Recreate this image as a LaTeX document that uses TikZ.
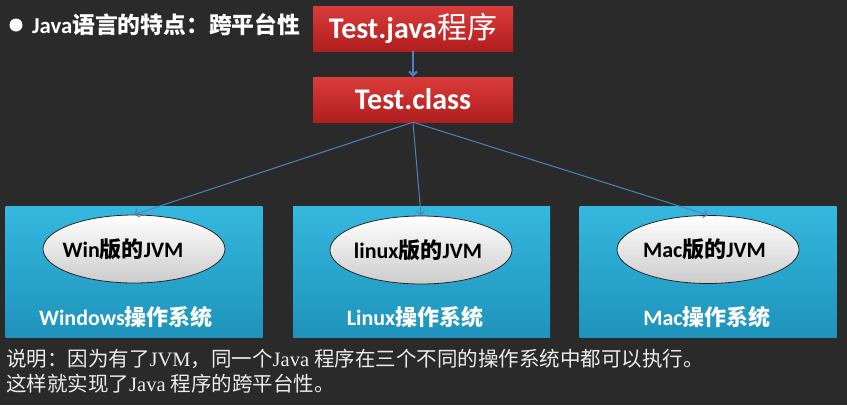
\documentclass[tikz,border=0pt]{standalone}
\usepackage{fontspec}
\setmainfont{Carlito}
\newfontfamily\cjk{Noto Sans CJK SC}
\newfontfamily\songlatin{Liberation Serif}
\usetikzlibrary{shapes.geometric,arrows.meta}
\newcommand\setfs[1]{\fontsize{#1}{#1}\selectfont}
\definecolor{board}{HTML}{2A2A2A}
\definecolor{redtop}{HTML}{D93C3A}
\definecolor{redbot}{HTML}{B01E1E}
\definecolor{ostop}{HTML}{35B8DF}
\definecolor{osbot}{HTML}{1E93BB}
\definecolor{linkblue}{HTML}{4F81BD}
\definecolor{notetext}{HTML}{ECECEC}
\tikzset{
  redbox/.style={top color=redtop, bottom color=redbot, minimum width=200pt,
    minimum height=45pt, inner sep=0pt, text=white, font=\setfs{30}\bfseries},
  osbox/.style={top color=ostop, bottom color=osbot, minimum width=257pt,
    minimum height=131pt, inner sep=0pt},
  jvm/.style={ellipse, draw=black!85, line width=0.8pt, top color=white,
    bottom color=black!20, minimum width=182pt, minimum height=68pt,
    inner sep=0pt, font=\setfs{22}\bfseries},
  oslabel/.style={text=white, font=\setfs{22}\bfseries},
  link/.style={draw=linkblue, line width=1pt,
    -{Straight Barb[length=4pt,width=8pt]}},
  note/.style={anchor=west, inner sep=0pt, text=notetext, font=\setfs{20.5}}
}
\begin{document}
\begin{tikzpicture}[x=1pt,y=-1pt]
  \useasboundingbox (0,0) rectangle (847,405);
  \fill[board] (0,0) rectangle (847,405);
  % heading
  \node[circle, fill=white, inner sep=0pt, minimum size=13pt] (dot) at (16,25) {};
  \node[anchor=west, inner sep=0pt, text=white, font=\setfs{22.8}\bfseries] (title) at (32,25)
    {Java{\cjk 语言的特点：跨平台性}};
  % source and bytecode
  \node[redbox] (java) at (413,28.5) {Test.java{\cjk\mdseries 程序}};
  \node[redbox] (class) at (413,99.5) {Test.class};
  % operating systems
  \node[osbox] (winos) at (134,271.5) {};
  \node[osbox] (linuxos) at (421.5,271.5) {};
  \node[osbox] (macos) at (708,271.5) {};
  \node[jvm] (winjvm) at (134,249) {\hspace*{-22pt}Win{\cjk 版的}JVM};
  \node[jvm] (linuxjvm) at (421,250) {\hspace*{-6pt}linux{\cjk 版的}JVM};
  \node[jvm] (macjvm) at (708,249.5) {\hspace*{-7pt}Mac{\cjk 版的}JVM};
  \node[oslabel] (winlabel) at (126,317) {Windows{\cjk 操作系统}};
  \node[oslabel] (linuxlabel) at (415,317) {Linux{\cjk 操作系统}};
  \node[oslabel] (maclabel) at (707,317) {Mac{\cjk 操作系统}};
  % arrows
  \draw[link, line width=2pt] (java.south) -- (class.north);
  \draw[link] (class.south) -- (winjvm.north);
  \draw[link] (class.south) -- (linuxjvm.north);
  \draw[link] (class.south) -- (macjvm.north);
  % note below
  \node[note] (note1) at (6,359)
    {{\cjk 说明：因为有了}{\songlatin JVM}{\cjk ，同一个}{\songlatin Java }{\cjk 程序在三个不同的操作系统中都可以执行。}};
  \node[note] (note2) at (6,384)
    {{\cjk 这样就实现了}{\songlatin Java }{\cjk 程序的跨平台性。}};
\end{tikzpicture}
\end{document}
